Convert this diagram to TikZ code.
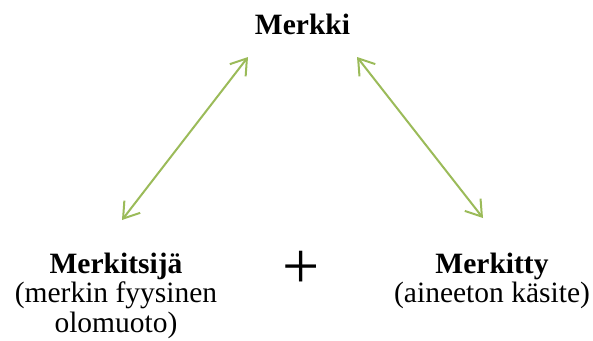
\documentclass[tikz,border=0pt]{standalone}
\usepackage{fontspec}
\setmainfont{Liberation Serif}
\usetikzlibrary{arrows.meta}
\definecolor{arrowgreen}{HTML}{9BBB59}
\tikzset{
  lbl/.style={inner sep=0pt, align=center, font=\fontsize{29.5}{29.5}\selectfont, anchor=base},
  link/.style={draw=arrowgreen, line width=2pt,
    {Straight Barb[length=15pt,width=20pt,line width=2pt]}-{Straight Barb[length=15pt,width=20pt,line width=2pt]}},
  plussign/.style={inner sep=0pt, font=\fontsize{66}{66}\selectfont}
}
\begin{document}
\begin{tikzpicture}[x=1pt,y=-1pt]
\useasboundingbox (0,0) rectangle (593,340);
\node[lbl] (merkki) at (302.5,34) {\textbf{Merkki}};
\node[lbl] (merkitsija) at (116,332) {\textbf{Merkitsijä}\\(merkin fyysinen\\olomuoto)};
\node[lbl] (merkitty) at (492,302.5) {\textbf{Merkitty}\\(aineeton käsite)};
\node[plussign] (plus) at (301.5,269.5) {+};
\coordinate (l1) at (248,57);
\coordinate (l2) at (122,220);
\coordinate (r1) at (357,57);
\coordinate (r2) at (483,218);
\draw[link] (l2) -- (l1);
\draw[link] (r1) -- (r2);
\end{tikzpicture}
\end{document}
